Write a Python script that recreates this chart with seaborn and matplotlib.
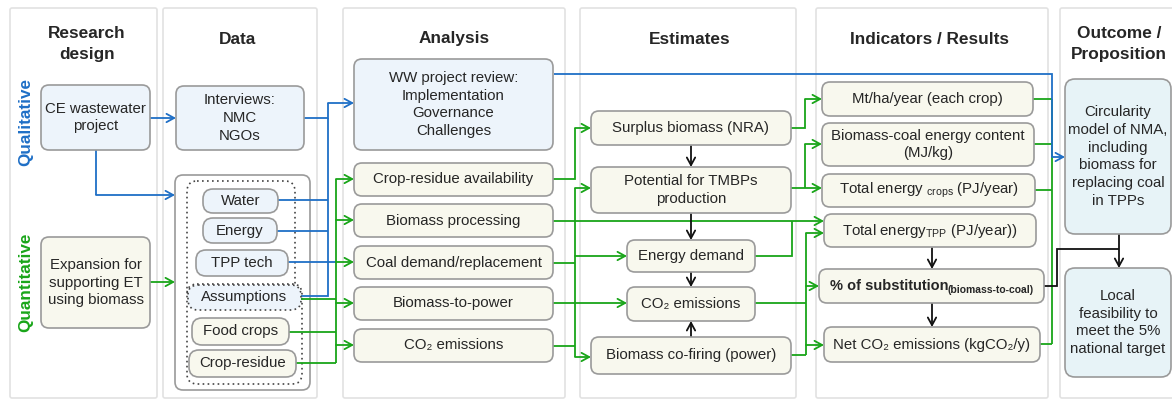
import matplotlib.pyplot as plt
from matplotlib.patches import FancyBboxPatch, FancyArrowPatch
import seaborn as sns

# ---- labels -------------------------------------------------------------
column_titles = ["Research\ndesign", "Data", "Analysis", "Estimates",
                 "Indicators / Results", "Outcome /\nProposition"]
side_labels = ["Qualitative", "Quantitative"]
design_labels = ["CE wastewater\nproject", "Expansion for\nsupporting ET\nusing biomass"]
data_labels = ["Interviews:\nNMC\nNGOs", "Water", "Energy", "TPP tech",
               "Assumptions", "Food crops", "Crop-residue"]
analysis_labels = ["WW project review:\nImplementation\nGovernance\nChallenges",
                   "Crop-residue availability", "Biomass processing",
                   "Coal demand/replacement", "Biomass-to-power", "CO₂ emissions"]
estimate_labels = ["Surplus biomass (NRA)", "Potential for TMBPs\nproduction",
                   "Energy demand", "CO₂ emissions", "Biomass co-firing (power)"]
indicator_labels = ["Mt/ha/year (each crop)", "Biomass-coal energy content\n(MJ/kg)",
                    r"Total energy $_{\rm crops}$ (PJ/year)",
                    r"Total energy$_{\rm TPP}$ (PJ/year))",
                    "% of substitution", "Net CO₂ emissions (kgCO₂/y)"]
substitution_sub = "(biomass-to-coal)"
outcome_labels = ["Circularity\nmodel of NMA,\nincluding\nbiomass for\nreplacing coal\nin TPPs",
                  "Local\nfeasibility to\nmeet the 5%\nnational target"]

# ---- layout (pixel space, y down) ---------------------------------------
panels = [(10, 157), (163, 317), (343, 565), (580, 796), (816, 1048), (1060, 1190)]
title_x = [87, 238, 454, 690, 929, 1119]
design_boxes = [(41, 85, 150, 150), (41, 237, 150, 328)]
data_boxes = [(176, 86, 304, 150), (203, 189, 278, 213), (203, 218, 277, 243),
              (196, 250, 288, 276), (188, 285, 301, 310), (192, 318, 289, 345),
              (189, 350, 296, 377)]
analysis_boxes = [(354, 59, 553, 150), (354, 163, 553, 196), (354, 204, 553, 237),
                  (354, 246, 553, 279), (354, 287, 553, 320), (354, 329, 553, 362)]
estimate_boxes = [(591, 111, 791, 145), (591, 167, 791, 213), (627, 240, 755, 272),
                  (627, 287, 755, 321), (591, 337, 791, 374)]
indicator_boxes = [(822, 82, 1033, 116), (822, 123, 1034, 166), (822, 174, 1035, 207),
                   (824, 214, 1036, 247), (819, 269, 1044, 303), (824, 327, 1040, 362)]
outcome_boxes = [(1065, 79, 1171, 234), (1065, 268, 1171, 377)]

BLUE = "#1f6fc6"
GREEN = "#19a519"
BLACK = "#111111"
EDGE = "#9a9a9a"
FILL_B = "#edf4fb"
FILL_Y = "#f8f8ee"
FILL_O = "#e7f3f7"

sns.set_theme(style="white")
plt.rcParams['font.family'] = ['Liberation Sans', 'DejaVu Sans']
plt.rcParams['mathtext.fontset'] = 'custom'
plt.rcParams['mathtext.rm'] = 'Liberation Sans'
plt.rcParams['mathtext.bf'] = 'Liberation Sans:bold'

fig = plt.figure(figsize=(11.72, 4.01), dpi=100)
ax = fig.add_axes([0, 0, 1, 1])
ax.set_xlim(0, 1172)
ax.set_ylim(401, 0)
ax.set_axis_off()

FS = 10.8


def box(b, fill, ec=EDGE, ls='-', r=8, lw=1.2, z=3):
    x0, y0, x1, y1 = b
    ax.add_patch(FancyBboxPatch((x0, y0), x1 - x0, y1 - y0,
                                boxstyle=f"round,pad=0,rounding_size={r}",
                                fc=fill, ec=ec, lw=lw, ls=ls, zorder=z))


def label(b, s, **kw):
    x0, y0, x1, y1 = b
    ax.text((x0 + x1) / 2, (y0 + y1) / 2, s, ha='center', va='center',
            fontsize=kw.pop('fontsize', FS), linespacing=kw.pop('linespacing', 1.35),
            zorder=5, **kw)


def route(pts, color, arrow=True, lw=1.3):
    xs, ys = zip(*pts)
    n = len(pts) - 1 if arrow else len(pts)
    if n > 1:
        ax.plot(xs[:n], ys[:n], color=color, lw=lw, zorder=2,
                solid_joinstyle='miter', solid_capstyle='butt')
    if arrow:
        ax.add_patch(FancyArrowPatch(pts[-2], pts[-1],
                                     arrowstyle='->,head_length=0.55,head_width=0.3',
                                     mutation_scale=10, color=color, lw=lw,
                                     shrinkA=0, shrinkB=0, zorder=2))


# panels
for x0, x1 in panels:
    ax.add_patch(FancyBboxPatch((x0, 8), x1 - x0, 390, boxstyle="round,pad=0,rounding_size=2",
                                fc='white', ec='#e2e2e2', lw=1.2, zorder=0))
for t, x in zip(column_titles, title_x):
    y = 44 if '\n' in t else 39
    ax.text(x, y, t, ha='center', va='center', fontsize=12.4, fontweight='bold',
            linespacing=1.45, zorder=5)

ax.text(26, 122, side_labels[0], rotation=90, ha='center', va='center',
        fontsize=12.3, fontweight='bold', color=BLUE)
ax.text(26, 282, side_labels[1], rotation=90, ha='center', va='center',
        fontsize=12.3, fontweight='bold', color=GREEN)

# data container and dotted groups
box((175, 175, 310, 390), 'white', r=8, z=1)
box((187, 181, 295, 300), 'none', ec='#444444', ls=(0, (1, 2)), r=10, z=1.5)
box((187, 284, 302, 384), 'none', ec='#444444', ls=(0, (1, 2)), r=10, z=1.5)

# ---- connectors ---------------------------------------------------------
# blue (qualitative)
route([(150, 118), (176, 118)], BLUE)
route([(96, 150), (96, 195), (175, 195)], BLUE)
route([(304, 118), (328, 118), (328, 103), (354, 103)], BLUE)
route([(328, 118), (328, 296), (301, 296)], BLUE, arrow=False)
route([(278, 200), (328, 200)], BLUE, arrow=False)
route([(277, 231), (328, 231)], BLUE, arrow=False)
route([(288, 262), (336, 262)], BLUE, arrow=False)

# green data -> analysis
route([(150, 282), (175, 282)], GREEN)
route([(301, 299), (336, 299)], GREEN, arrow=False)
route([(289, 332), (336, 332)], GREEN, arrow=False)
route([(296, 363), (336, 363)], GREEN, arrow=False)
route([(336, 179), (336, 363)], GREEN, arrow=False)
for y in [179, 220, 262, 303, 345]:
    route([(336, y), (354, y)], GREEN)

# analysis -> estimates
route([(553, 179), (575, 179), (575, 128), (591, 128)], GREEN)
route([(553, 221), (824, 221)], GREEN)
route([(553, 263), (575, 263)], GREEN, arrow=False)
route([(553, 346), (575, 346)], GREEN, arrow=False)
route([(575, 188), (575, 357)], GREEN, arrow=False)
route([(575, 188), (591, 188)], GREEN)
route([(575, 256), (627, 256)], GREEN)
route([(575, 357), (591, 357)], GREEN)
route([(553, 303), (627, 303)], GREEN)

# estimates -> indicators
route([(791, 128), (805, 128), (805, 99), (822, 99)], GREEN)
route([(791, 188), (822, 188)], GREEN)
route([(805, 188), (805, 144), (822, 144)], GREEN)
route([(755, 256), (792, 256), (792, 221)], GREEN, arrow=False)
route([(755, 303), (806, 303)], GREEN, arrow=False)
route([(791, 355), (806, 355)], GREEN, arrow=False)
route([(806, 233), (806, 355)], GREEN, arrow=False)
route([(806, 233), (824, 233)], GREEN)
route([(806, 286), (819, 286)], GREEN)
route([(806, 345), (824, 345)], GREEN)

# indicators -> outcome
for x0, y in [(1033, 99), (1034, 144), (1035, 190), (1040, 344)]:
    route([(x0, y), (1052, y)], GREEN, arrow=False)
route([(1052, 99), (1052, 344)], GREEN, arrow=False)
route([(554, 74), (1052, 74), (1052, 157), (1065, 157)], BLUE)

# black internal arrows
route([(691, 146), (691, 167)], BLACK)
route([(691, 214), (691, 240)], BLACK)
route([(691, 272), (691, 287)], BLACK)
route([(691, 337), (691, 321)], BLACK)
route([(932, 248), (932, 269)], BLACK)
route([(932, 303), (932, 327)], BLACK)
route([(1044, 286), (1057, 286), (1057, 249), (1119, 249)], BLACK, arrow=False)
route([(1119, 234), (1119, 268)], BLACK)

# ---- boxes --------------------------------------------------------------
box(design_boxes[0], FILL_B)
label(design_boxes[0], design_labels[0])
box(design_boxes[1], FILL_Y)
label(design_boxes[1], design_labels[1])

for i, (b, s) in enumerate(zip(data_boxes, data_labels)):
    if i == 4:
        box(b, FILL_B, ec='#444444', ls=(0, (1, 2)), r=10)
    else:
        box(b, FILL_B if i < 4 else FILL_Y, r=10 if i > 0 else 8)
    label(b, s)

for i, (b, s) in enumerate(zip(analysis_boxes, analysis_labels)):
    box(b, FILL_B if i == 0 else FILL_Y)
    label(b, s)

for b, s in zip(estimate_boxes, estimate_labels):
    box(b, FILL_Y)
    label(b, s)

for i, (b, s) in enumerate(zip(indicator_boxes, indicator_labels)):
    box(b, FILL_Y)
    if i == 4:
        ax.text(948, 286, s, ha='right', va='center', fontsize=10.5,
                fontweight='bold', zorder=5)
        ax.text(948, 290, substitution_sub, ha='left', va='center', fontsize=7.5,
                fontweight='bold', zorder=5)
    else:
        label(b, s)

for b, s in zip(outcome_boxes, outcome_labels):
    box(b, FILL_O, r=10)
    label(b, s)

fig.savefig("out.png", dpi=100)
